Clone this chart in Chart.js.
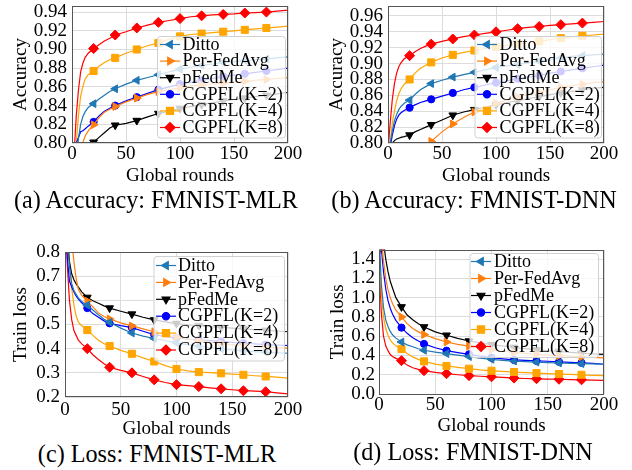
<!DOCTYPE html>
<html><head><meta charset="utf-8">
<script src="https://cdn.jsdelivr.net/npm/chart.js@4/dist/chart.umd.min.js"></script>
<style>
html,body{margin:0;padding:0;background:#fff;width:632px;height:470px;overflow:hidden;position:relative}
canvas{position:absolute}
.cap{position:absolute;font-family:"Liberation Serif","Times New Roman",serif;font-size:24.2px;line-height:24px;white-space:nowrap;text-align:center;color:#000;width:316px}
</style></head><body>
<canvas id="ca" width="316" height="187" style="left:0;top:0;width:316px;height:187px"></canvas>
<canvas id="cb" width="316" height="187" style="left:316px;top:0;width:316px;height:187px"></canvas>
<canvas id="cc" width="316" height="200" style="left:0;top:240px;width:316px;height:200px"></canvas>
<canvas id="cd" width="316" height="197" style="left:316px;top:240px;width:316px;height:197px"></canvas>
<div class="cap" style="left:-2px;top:188px">(a) Accuracy: FMNIST-MLR</div>
<div class="cap" style="left:316px;top:188px">(b) Accuracy: FMNIST-DNN</div>
<div class="cap" style="left:-1px;top:442px">(c) Loss: FMNIST-MLR</div>
<div class="cap" style="left:315px;top:440px">(d) Loss: FMNIST-DNN</div>
<script>
// ---- data ----
const rounds = [0,2,4,6,8,10,12,15,20,25,30,35,40,50,60,70,80,90,100,110,120,130,140,150,160,170,180,190,200];
const methods = ['Ditto','Per-FedAvg','pFedMe','CGPFL(K=2)','CGPFL(K=4)','CGPFL(K=8)'];
const xTicks = [0,50,100,150,200];
const xTickLabels = ['0','50','100','150','200'];
const accTicksA = [0.80,0.82,0.84,0.86,0.88,0.90,0.92,0.94];
const accLabelsA = ['0.80','0.82','0.84','0.86','0.88','0.90','0.92','0.94'];
const accTicksB = [0.80,0.82,0.84,0.86,0.88,0.90,0.92,0.94,0.96];
const accLabelsB = ['0.80','0.82','0.84','0.86','0.88','0.90','0.92','0.94','0.96'];
const lossTicksC = [0.2,0.3,0.4,0.5,0.6,0.7,0.8];
const lossLabelsC = ['0.2','0.3','0.4','0.5','0.6','0.7','0.8'];
const lossTicksD = [0.0,0.2,0.4,0.6,0.8,1.0,1.2,1.4];
const lossLabelsD = ['0.0','0.2','0.4','0.6','0.8','1.0','1.2','1.4'];

// (a) Accuracy FMNIST-MLR
const accMlrDitto  = [0.74,0.76,0.785,0.805,0.82,0.828,0.833,0.838,0.842,0.847,0.851,0.855,0.858,0.863,0.867,0.870,0.873,0.876,0.879,0.881,0.883,0.8845,0.886,0.887,0.888,0.889,0.890,0.891,0.892];
const accMlrPerFed = [0.72,0.74,0.76,0.775,0.79,0.80,0.807,0.813,0.8195,0.827,0.833,0.836,0.839,0.844,0.848,0.852,0.855,0.857,0.859,0.861,0.862,0.863,0.864,0.865,0.866,0.867,0.868,0.869,0.870];
const accMlrPFedMe = [0.70,0.72,0.74,0.755,0.767,0.778,0.788,0.797,0.8008,0.806,0.811,0.816,0.819,0.821,0.824,0.828,0.8315,0.834,0.837,0.839,0.841,0.843,0.845,0.8465,0.848,0.8495,0.851,0.8525,0.854];
const accMlrK2     = [0.75,0.78,0.80,0.806,0.812,0.813,0.815,0.818,0.8225,0.829,0.834,0.837,0.840,0.845,0.849,0.853,0.857,0.860,0.863,0.865,0.867,0.869,0.871,0.8725,0.874,0.8755,0.877,0.8785,0.880];
const accMlrK4     = [0.74,0.77,0.80,0.83,0.85,0.86,0.868,0.873,0.877,0.882,0.886,0.889,0.891,0.896,0.900,0.904,0.907,0.911,0.914,0.916,0.917,0.918,0.919,0.920,0.921,0.922,0.923,0.924,0.925];
const accMlrK8     = [0.76,0.79,0.83,0.857,0.876,0.885,0.891,0.896,0.901,0.905,0.909,0.912,0.9155,0.919,0.923,0.926,0.929,0.931,0.933,0.935,0.936,0.937,0.9375,0.938,0.939,0.9395,0.940,0.941,0.942];

// (b) Accuracy FMNIST-DNN
const accDnnDitto  = [0.78,0.80,0.815,0.828,0.836,0.842,0.846,0.850,0.854,0.861,0.867,0.871,0.8748,0.879,0.883,0.886,0.889,0.892,0.895,0.897,0.899,0.901,0.903,0.905,0.907,0.909,0.910,0.911,0.912];
const accDnnPerFed = [0.70,0.71,0.72,0.73,0.74,0.745,0.75,0.758,0.768,0.778,0.787,0.795,0.802,0.814,0.824,0.832,0.839,0.845,0.850,0.854,0.858,0.861,0.864,0.867,0.870,0.872,0.874,0.876,0.877];
const accDnnPFedMe = [0.78,0.795,0.80,0.803,0.805,0.806,0.807,0.808,0.810,0.814,0.817,0.820,0.823,0.829,0.835,0.839,0.842,0.845,0.848,0.851,0.853,0.856,0.858,0.861,0.863,0.865,0.867,0.869,0.870];
const accDnnK2     = [0.78,0.795,0.81,0.822,0.830,0.835,0.838,0.841,0.8445,0.848,0.851,0.853,0.855,0.859,0.863,0.867,0.870,0.873,0.876,0.878,0.881,0.883,0.885,0.888,0.890,0.892,0.894,0.896,0.898];
const accDnnK4     = [0.78,0.80,0.825,0.840,0.853,0.862,0.868,0.874,0.880,0.888,0.894,0.898,0.9015,0.907,0.911,0.914,0.9165,0.919,0.921,0.923,0.925,0.926,0.928,0.930,0.932,0.9335,0.935,0.936,0.937];
const accDnnK8     = [0.79,0.825,0.855,0.875,0.888,0.896,0.901,0.906,0.910,0.915,0.919,0.922,0.9245,0.928,0.931,0.934,0.936,0.938,0.940,0.942,0.944,0.9455,0.9467,0.948,0.949,0.950,0.951,0.952,0.953];

// (c) Train loss FMNIST-MLR
const lossMlrDitto  = [1.1,0.90,0.74,0.67,0.64,0.625,0.61,0.595,0.580,0.56,0.54,0.522,0.509,0.485,0.465,0.452,0.442,0.433,0.424,0.417,0.410,0.404,0.399,0.395,0.391,0.388,0.385,0.383,0.381];
const lossMlrPerFed = [1.4,1.15,0.97,0.85,0.76,0.69,0.645,0.62,0.597,0.573,0.548,0.533,0.523,0.507,0.494,0.482,0.470,0.458,0.448,0.440,0.433,0.427,0.421,0.417,0.413,0.409,0.406,0.404,0.402];
const lossMlrPFedMe = [1.1,0.85,0.76,0.71,0.685,0.668,0.655,0.635,0.612,0.598,0.588,0.577,0.568,0.555,0.543,0.530,0.519,0.511,0.504,0.499,0.495,0.491,0.488,0.485,0.482,0.479,0.476,0.473,0.470];
const lossMlrK2     = [1.1,0.78,0.68,0.655,0.635,0.618,0.605,0.59,0.568,0.545,0.53,0.515,0.505,0.495,0.487,0.472,0.458,0.450,0.445,0.440,0.437,0.433,0.430,0.426,0.423,0.420,0.417,0.415,0.413];
const lossMlrK4     = [1.2,0.95,0.75,0.65,0.58,0.535,0.51,0.495,0.477,0.455,0.435,0.42,0.411,0.393,0.379,0.362,0.347,0.330,0.316,0.308,0.303,0.301,0.298,0.295,0.292,0.288,0.285,0.282,0.278];
const lossMlrK8     = [1.1,0.75,0.60,0.52,0.475,0.455,0.435,0.42,0.40,0.375,0.355,0.338,0.323,0.310,0.300,0.285,0.271,0.260,0.251,0.247,0.243,0.238,0.234,0.230,0.226,0.224,0.222,0.217,0.213];

// (d) Train loss FMNIST-DNN
const lossDnnDitto  = [1.7,1.15,0.90,0.77,0.70,0.65,0.615,0.58,0.54,0.51,0.49,0.47,0.454,0.435,0.419,0.403,0.388,0.372,0.360,0.350,0.342,0.336,0.331,0.326,0.322,0.318,0.315,0.312,0.309];
const lossDnnPerFed = [2.0,1.65,1.38,1.2,1.08,1.0,0.94,0.87,0.80,0.73,0.68,0.645,0.617,0.575,0.54,0.515,0.497,0.478,0.460,0.444,0.431,0.421,0.412,0.404,0.397,0.391,0.385,0.380,0.375];
const lossDnnPFedMe = [2.3,1.88,1.58,1.4,1.27,1.17,1.1,1.0,0.904,0.82,0.77,0.73,0.696,0.645,0.61,0.578,0.55,0.531,0.513,0.498,0.484,0.471,0.46,0.45,0.441,0.432,0.424,0.417,0.411];
const lossDnnK2     = [1.9,1.52,1.27,1.09,0.97,0.89,0.83,0.765,0.689,0.63,0.585,0.55,0.52,0.48,0.45,0.43,0.412,0.394,0.377,0.365,0.354,0.349,0.344,0.34,0.334,0.329,0.324,0.317,0.309];
const lossDnnK4     = [1.6,1.05,0.80,0.68,0.61,0.56,0.53,0.50,0.468,0.42,0.385,0.36,0.339,0.31,0.291,0.276,0.263,0.25,0.241,0.234,0.228,0.222,0.217,0.212,0.207,0.203,0.199,0.194,0.19];
const lossDnnK8     = [1.5,0.85,0.60,0.50,0.45,0.41,0.39,0.37,0.346,0.30,0.272,0.255,0.242,0.225,0.211,0.20,0.19,0.184,0.178,0.172,0.165,0.161,0.158,0.155,0.153,0.15,0.147,0.145,0.142];

// ---- styles ----
const SERIF = '"Liberation Serif","Times New Roman",serif';
const styles = [
  {color:'#1f77b4', ps:'triangle', rot:-90, r:4.5},
  {color:'#ff7f0e', ps:'triangle', rot:90,  r:4.5},
  {color:'#000000', ps:'triangle', rot:180, r:4.5},
  {color:'#0000ff', ps:'circle',   rot:0,   r:3.6},
  {color:'#ffa500', ps:'rect',     rot:0,   r:5},
  {color:'#ff0000', ps:'rectRot',  rot:0,   r:5}
];

const framePlugin = {
  id:'frame',
  afterDatasetsDraw(chart){
    const {ctx, chartArea:a} = chart;
    ctx.save();
    ctx.strokeStyle = '#555555'; ctx.lineWidth = 1;
    ctx.strokeRect(Math.round(a.left)+0.5, Math.round(a.top)+0.5, Math.round(a.right-a.left)-1, Math.round(a.bottom-a.top)-1);
    ctx.restore();
  }
};

const legendPlugin = {
  id:'innerLegend',
  afterDraw(chart, args, o){
    const ctx = chart.ctx;
    ctx.save();
    const r = 3;
    ctx.beginPath();
    ctx.moveTo(o.x + r, o.y); ctx.lineTo(o.x + o.w - r, o.y);
    ctx.arcTo(o.x + o.w, o.y, o.x + o.w, o.y + r, r);
    ctx.lineTo(o.x + o.w, o.y + o.h - r);
    ctx.arcTo(o.x + o.w, o.y + o.h, o.x + o.w - r, o.y + o.h, r);
    ctx.lineTo(o.x + r, o.y + o.h);
    ctx.arcTo(o.x, o.y + o.h, o.x, o.y + o.h - r, r);
    ctx.lineTo(o.x, o.y + r);
    ctx.arcTo(o.x, o.y, o.x + r, o.y, r);
    ctx.closePath();
    ctx.fillStyle = 'rgba(255,255,255,0.8)';
    ctx.fill();
    ctx.strokeStyle = '#d0d0d0'; ctx.lineWidth = 1;
    ctx.stroke();
    chart.data.datasets.forEach((ds, i) => {
      const st = styles[i];
      const y = o.rowY0 + i * o.rowStep;
      ctx.strokeStyle = st.color; ctx.fillStyle = st.color; ctx.lineWidth = 1.2;
      ctx.beginPath(); ctx.moveTo(o.iconX0, y); ctx.lineTo(o.iconX1, y); ctx.stroke();
      Chart.helpers.drawPoint(ctx, {pointStyle: st.ps, rotation: st.rot, radius: st.r, borderWidth: 1}, (o.iconX0 + o.iconX1) / 2, y);
      ctx.fillStyle = '#000';
      ctx.font = o.fontSize + 'px ' + SERIF;
      ctx.textAlign = 'left'; ctx.textBaseline = 'middle';
      ctx.fillText(ds.label, o.textX, y + 0.5);
    });
    ctx.restore();
  }
};

function makeChart(id, cfg){
  const font = {family: SERIF, size: 19};
  const zero = s => { s.paddingTop = 0; s.paddingBottom = 0; s.paddingLeft = 0; s.paddingRight = 0; };
  return new Chart(document.getElementById(id), {
    type:'line',
    data:{datasets: cfg.series.map((vals, i) => ({
      label: methods[i],
      data: rounds.map((x, j) => ({x: x, y: vals[j]})),
      borderColor: styles[i].color, backgroundColor: styles[i].color,
      borderWidth: 1.2, tension: 0, fill: false,
      pointStyle: styles[i].ps, pointRotation: styles[i].rot,
      pointRadius: c => (rounds[c.dataIndex] % 20 === 0 && rounds[c.dataIndex] < 200) ? styles[i].r : 0,
      pointBorderWidth: 1,
      pointBackgroundColor: styles[i].color, pointBorderColor: styles[i].color
    }))},
    options:{
      responsive:false, animation:false, events:[],
      layout:{padding: cfg.pad},
      plugins:{legend:{display:false}, tooltip:{enabled:false}, innerLegend: cfg.legend},
      scales:{
        x:{type:'linear', min:0, max:200,
          afterBuildTicks: s => { s.ticks = xTicks.map(v => ({value: v})); },
          afterFit: s => { s.height = cfg.xh; zero(s); },
          grid:{color:'#dcdcdc', lineWidth:1, drawTicks:false},
          border:{display:false},
          ticks:{font, color:'#000', padding: cfg.xtp, maxRotation:0, autoSkip:false, callback:(v, i) => xTickLabels[i]},
          title:{display:true, text:'Global rounds', font, color:'#000', padding:0}
        },
        y:{type:'linear', min: cfg.ymin, max: cfg.ymax,
          afterBuildTicks: s => { s.ticks = cfg.yTicks.map(v => ({value: v})); },
          afterFit: s => { s.width = cfg.yw; zero(s); },
          grid:{color:'#dcdcdc', lineWidth:1, drawTicks:false},
          border:{display:false},
          ticks:{font, color:'#000', padding: cfg.ytp, autoSkip:false, callback:(v, i) => cfg.yLabels[i]},
          title:{display:true, text: cfg.ytitle, font, color:'#000', padding:{top: cfg.ytitlePad, bottom:0}}
        }
      }
    },
    plugins:[framePlugin, legendPlugin]
  });
}

makeChart('ca', {
  series:[accMlrDitto, accMlrPerFed, accMlrPFedMe, accMlrK2, accMlrK4, accMlrK8],
  pad:{left:0, top:5, right:28, bottom:0}, xh:44, yw:72, ytp:5, xtp:0,
  ymin:0.80, ymax:0.9465, yTicks:accTicksA, yLabels:accLabelsA, ytitle:'Accuracy', ytitlePad:10,
  legend: {x:157.5, y:36.5, w:128, h:101.5, rowY0:44.5, rowStep:16.6, iconX0:160, iconX1:180, textX:182.5, fontSize:18}
});
makeChart('cb', {
  series:[accDnnDitto, accDnnPerFed, accDnnPFedMe, accDnnK2, accDnnK4, accDnnK8],
  pad:{left:0, top:5, right:28, bottom:0}, xh:44, yw:72, ytp:5, xtp:0,
  ymin:0.80, ymax:0.9725, yTicks:accTicksB, yLabels:accLabelsB, ytitle:'Accuracy', ytitlePad:10,
  legend: {x:159, y:36.5, w:126.5, h:101.5, rowY0:44.5, rowStep:16.6, iconX0:161, iconX1:181, textX:183.5, fontSize:18}
});
makeChart('cc', {
  series:[lossMlrDitto, lossMlrPerFed, lossMlrPFedMe, lossMlrK2, lossMlrK4, lossMlrK8],
  pad:{left:0, top:12, right:28, bottom:0}, xh:43, yw:65, ytp:5, xtp:1.5,
  ymin:0.2, ymax:0.8, yTicks:lossTicksC, yLabels:lossLabelsC, ytitle:'Train loss', ytitlePad:10,
  legend: {x:154, y:16.5, w:130.5, h:104.5, rowY0:25.5, rowStep:16.9, iconX0:156, iconX1:176, textX:178, fontSize:18}
});
makeChart('cd', {
  series:[lossDnnDitto, lossDnnPerFed, lossDnnPFedMe, lossDnnK2, lossDnnK4, lossDnnK8],
  pad:{left:0, top:9.5, right:28, bottom:0}, xh:43, yw:63, ytp:4, xtp:0,
  ymin:0.0, ymax:1.5, yTicks:lossTicksD, yLabels:lossLabelsD, ytitle:'Train loss', ytitlePad:11,
  legend: {x:154, y:13.5, w:128.5, h:104, rowY0:21.5, rowStep:17, iconX0:155, iconX1:175, textX:178, fontSize:18}
});
</script>
</body></html>
